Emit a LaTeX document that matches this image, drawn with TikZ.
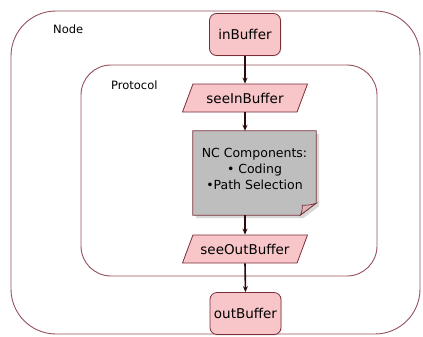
\documentclass[tikz,border=0pt]{standalone}
\usepackage{fontspec}
\setmainfont{DejaVu Sans}
\usetikzlibrary{shapes.geometric,arrows.meta,shadows,calc}

\definecolor{bufpink}{HTML}{F8C6C8}
\definecolor{bufedge}{HTML}{7A2E38}
\definecolor{frameedge}{HTML}{94505A}
\definecolor{docgray}{HTML}{BEBEBE}
\definecolor{flowline}{HTML}{2B0B0B}

\begin{document}
\begin{tikzpicture}[x=1pt,y=-1pt,
  frame/.style={draw=frameedge, line width=0.9pt, rounded corners=#1},
  buffer/.style={draw=bufedge, fill=bufpink, line width=0.8pt, rounded corners=7pt,
    minimum width=71pt, minimum height=42pt, inner sep=0pt,
    font=\fontsize{13.5}{16}\selectfont,
    drop shadow={opacity=0.18, shadow xshift=1pt, shadow yshift=-1pt}},
  io/.style={trapezium, trapezium left angle=45, trapezium right angle=135,
    trapezium stretches body, draw=bufedge, fill=bufpink, line width=0.8pt,
    minimum width=125pt, minimum height=28pt, inner sep=0pt,
    font=\fontsize{13.5}{16}\selectfont},
  flow/.style={draw=flowline, line width=1.6pt, -{Stealth[length=6pt,width=5pt]}},
  framelabel/.style={font=\fontsize{11.5}{14}\selectfont, anchor=west, inner sep=0pt}
]
\fill[white] (0,0) rectangle (423,337);
\useasboundingbox (0,0) rectangle (423,337);

% containers
\draw[frame=45pt] (11,11) rectangle (420,334);
\node[framelabel] (nodelbl) at (53,29) {Node};
\draw[frame=30pt] (81,65) rectangle (377,276);
\node[framelabel] (protlbl) at (111,85) {Protocol};

% buffers and protocol hooks
\node[buffer] (inb) at (245,34.5) {inBuffer};
\node[io] (sin) at (245,98) {seeInBuffer};
\node[io] (sout) at (245,249) {seeOutBuffer};
\node[buffer] (outb) at (245.5,313.5) {outBuffer};

% NC components document
\node[minimum width=123pt, minimum height=84pt, inner sep=0pt] (nc) at (254.5,173) {};
\fill[black!30, opacity=0.5]
  ([xshift=3pt,yshift=-3pt]nc.north west) -- ([xshift=3pt,yshift=-3pt]nc.north east)
  -- ([xshift=3pt,yshift=9pt]nc.south east) -- ([xshift=-13pt,yshift=-3pt]nc.south east)
  -- ([xshift=3pt,yshift=-3pt]nc.south west) -- cycle;
\filldraw[fill=docgray, draw=bufedge, line width=0.8pt]
  (nc.north west) -- (nc.north east) -- ([yshift=12pt]nc.south east)
  -- ([xshift=-16pt]nc.south east) -- (nc.south west) -- cycle;
\filldraw[fill=bufpink!75!gray, draw=bufedge, line width=0.7pt]
  ([yshift=12pt]nc.south east) .. controls ([xshift=-7pt,yshift=10pt]nc.south east)
  .. ([xshift=-14pt,yshift=10pt]nc.south east)
  .. controls ([xshift=-14pt,yshift=4pt]nc.south east) .. ([xshift=-16pt]nc.south east) -- cycle;
\node[align=center, font=\fontsize{12.5}{16}\selectfont, inner sep=0pt] (nctext)
  at ($(nc.center)+(0,-4)$) {NC Components:\\ • Coding\\ •Path Selection};

% flow
\draw[flow] (inb.south) -- (sin.north);
\draw[flow] (sin.south) -- (sin.south |- nc.north);
\draw[flow] (sin.south |- nc.south) -- (sout.north);
\draw[flow] (sout.south) -- (outb.north);
\end{tikzpicture}
\end{document}
